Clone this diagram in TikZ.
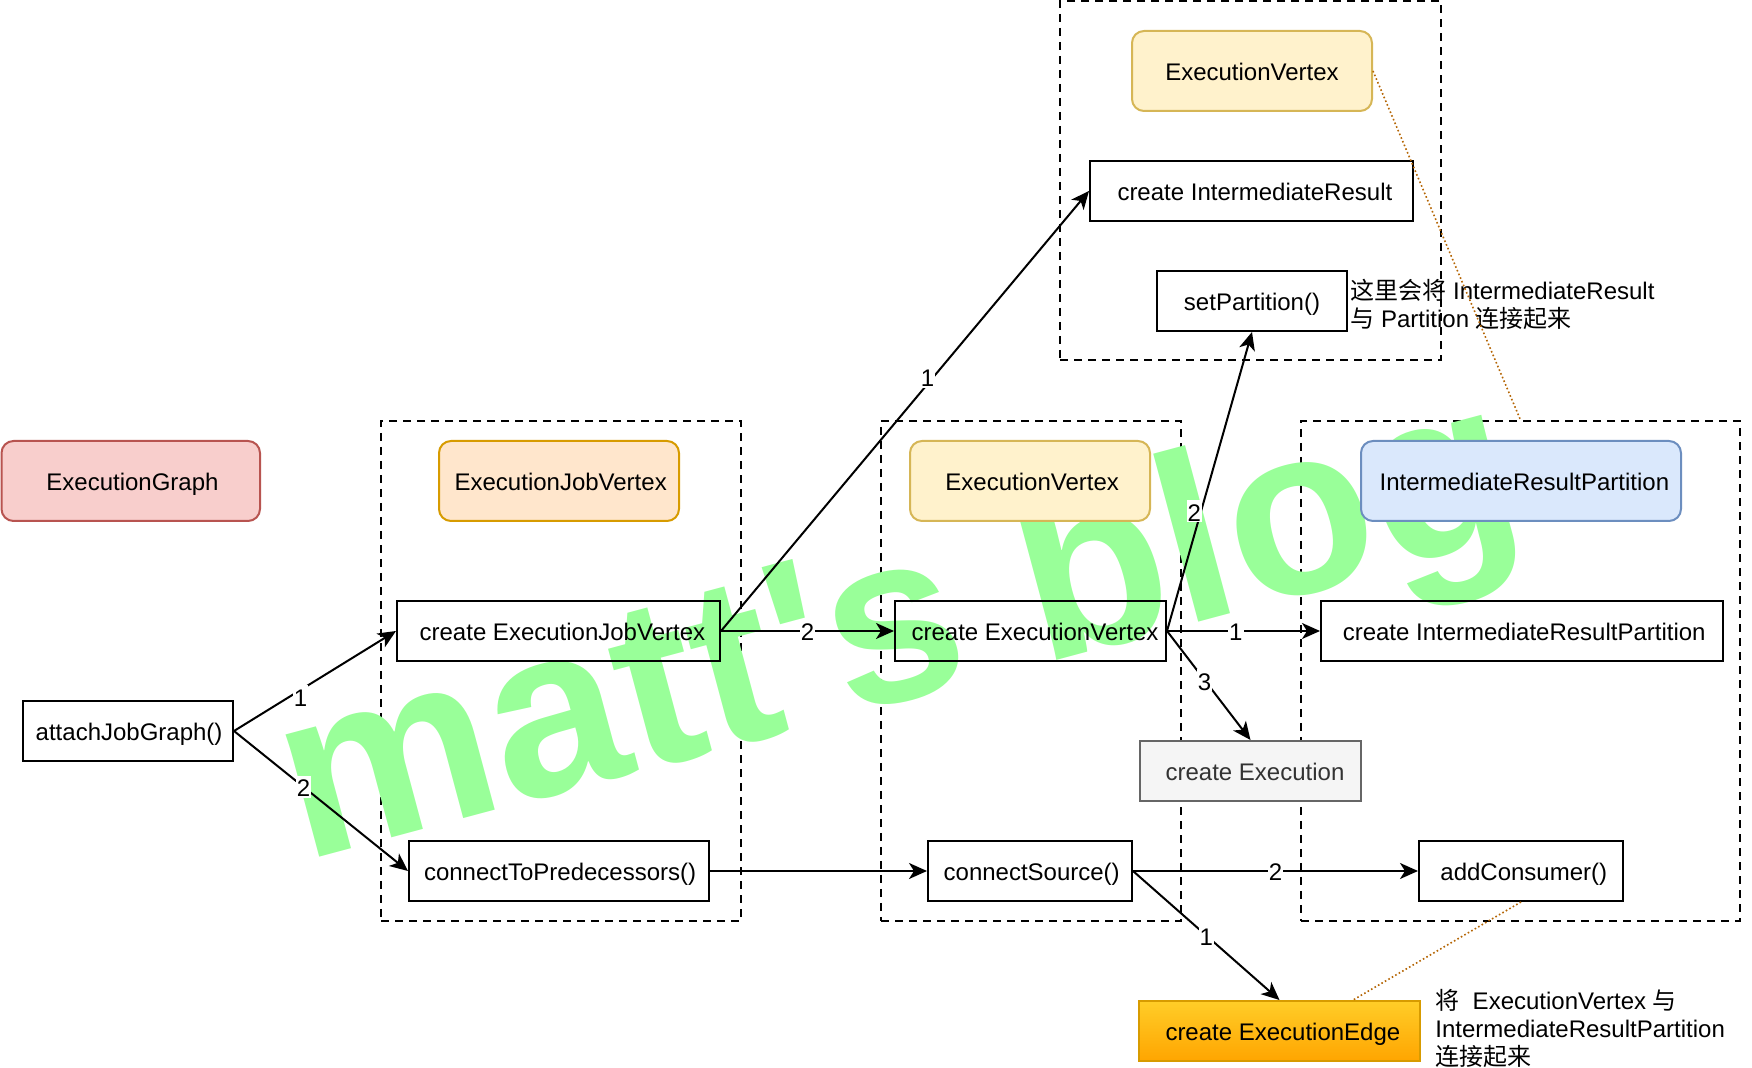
\documentclass[tikz,border=0pt]{standalone}
\usepackage{fontspec}
\setmainfont{Liberation Sans}
\newfontfamily\cjk{Noto Sans CJK SC}
\usetikzlibrary{arrows.meta,calc}
\definecolor{wm}{HTML}{99FF99}
\definecolor{dotc}{HTML}{B46504}
\definecolor{redf}{HTML}{F8CECC}\definecolor{redd}{HTML}{B85450}
\definecolor{orf}{HTML}{FFE6CC}\definecolor{ord}{HTML}{D79B00}
\definecolor{yef}{HTML}{FFF2CC}\definecolor{yed}{HTML}{D6B656}
\definecolor{blf}{HTML}{DAE8FC}\definecolor{bld}{HTML}{6C8EBF}
\definecolor{grf}{HTML}{F5F5F5}\definecolor{grd}{HTML}{666666}\definecolor{grt}{HTML}{333333}
\definecolor{edt}{HTML}{FFCD28}\definecolor{edb}{HTML}{FFA500}
\begin{document}
\begin{tikzpicture}[x=0.5pt,y=-0.5pt,
  every node/.style={font=\fontsize{12pt}{14pt}\selectfont, inner sep=0pt},
  box/.style={draw, line width=1pt, minimum height=30pt, align=center, text height=10pt, text depth=0pt},
  rbox/.style={box, rounded corners=6pt, minimum height=40pt},
  tx/.style={execute at begin node={\hspace*{#1}}},
  cont/.style={draw, line width=1pt, dash pattern=on 4pt off 3pt},
  conn/.style={line width=1pt, -{Stealth[length=9pt,width=8pt,inset=2.5pt]}},
  lbl/.style={fill=white, inner sep=0.5pt, text height=10pt, text depth=0pt},
  dotl/.style={draw=dotc, line width=0.8pt, dash pattern=on 0.8pt off 1.2pt},
  note/.style={anchor=west, align=left}]
\useasboundingbox (0,0) rectangle (1752,1068);
% containers
\node[cont, minimum width=180pt, minimum height=250pt] (c1) at (561,671) {};
\node[cont, minimum width=150pt, minimum height=250pt] (c2) at (1031,671) {};
\node[cont, minimum width=219.5pt, minimum height=250pt] (c3) at (1520.5,671) {};
\node[cont, minimum width=190.5pt, minimum height=179.5pt] (c4) at (1250.5,180.5) {};
% watermark
\node[font=\fontsize{120pt}{120pt}\selectfont\bfseries, text=wm, rotate=15, anchor=base west] (wmk) at (303,862) {matt\textquotesingle s blog};
% header boxes
\node[rbox, tx=1.7pt, fill=redf, draw=redd, minimum width=129.25pt] (graph) at (130.75,481) {ExecutionGraph};
\node[rbox, tx=1.7pt, fill=orf, draw=ord, minimum width=120pt] (ejv) at (559,481) {ExecutionJobVertex};
\node[rbox, tx=2.2pt, fill=yef, draw=yed, minimum width=120pt] (ev) at (1030,481) {ExecutionVertex};
\node[rbox, tx=3.4pt, fill=blf, draw=bld, minimum width=160pt] (irp) at (1521,481) {IntermediateResultPartition};
\node[rbox, fill=yef, draw=yed, minimum width=120pt] (evtop) at (1252,71) {ExecutionVertex};
% steps
\node[box, tx=3.4pt, minimum width=161.5pt] (cir) at (1251.5,191) {create IntermediateResult};
\node[box, minimum width=95pt] (sp) at (1252,301) {setPartition()};
\node[box, tx=1.1pt, minimum width=105pt] (ajg) at (128,731) {attachJobGraph()};
\node[box, tx=3.9pt, minimum width=161.5pt] (cejv) at (558.5,631) {create ExecutionJobVertex};
\node[box, tx=1.1pt, minimum width=150pt] (ctp) at (559,871) {connectToPredecessors()};
\node[box, tx=4.5pt, minimum width=135.5pt] (cev) at (1030.5,631) {create ExecutionVertex};
\node[box, tx=2.2pt, minimum width=201pt] (cirp) at (1522,631) {create IntermediateResultPartition};
\node[box, tx=4.5pt, fill=grf, draw=grd, text=grt, minimum width=110.5pt] (ce) at (1250.5,771) {create Execution};
\node[box, tx=1.7pt, minimum width=102pt] (cs) at (1030,871) {connectSource()};
\node[box, tx=2.8pt, minimum width=102pt] (ac) at (1521,871) {addConsumer()};
\node[box, tx=3.4pt, top color=edt, bottom color=edb, draw=ord, minimum width=140.5pt] (cee) at (1279.5,1031) {create ExecutionEdge};
% notes
\node[note] (note1) at (1350,304) {{\cjk 这里会将} IntermediateResult\\{\cjk 与} Partition {\cjk 连接起来}};
\node[note] (note2) at (1435,1028) {{\cjk 将}\ \ ExecutionVertex {\cjk 与}\\IntermediateResultPartition\\{\cjk 连接起来}};
% connectors
\draw[conn] (ajg.east) -- node[lbl,pos=0.41,yshift=-3.2pt]{1} (cejv.west);
\draw[conn] (ajg.east) -- node[lbl,pos=0.40]{2} (ctp.west);
\draw[conn] (cejv.east) -- node[lbl,pos=0.575,xshift=-2.5pt,yshift=0.7pt]{1} (cir.west);
\draw[conn] (cejv.east) -- node[lbl,pos=0.5]{2} (cev.west);
\draw[conn] (cev.east) -- node[lbl,pos=0.4,xshift=-3.3pt]{2} (sp.south);
\draw[conn] (cev.east) -- node[lbl,pos=0.45]{1} (cirp.west);
\draw[conn] (cev.east) -- node[lbl,pos=0.45]{3} (ce.north);
\draw[conn] (ctp.east) -- (cs.west);
\draw[conn] (cs.east) -- node[lbl,pos=0.5]{2} (ac.west);
\draw[conn] (cs.east) -- node[lbl,pos=0.5]{1} (cee.north);
% dotted links
\coordinate (ceeN) at ($(cee.north west)!0.76!(cee.north east)$);
\draw[dotl] (evtop.east) -- (c3.north);
\draw[dotl] (ac.south) -- (ceeN);
\end{tikzpicture}
\end{document}
